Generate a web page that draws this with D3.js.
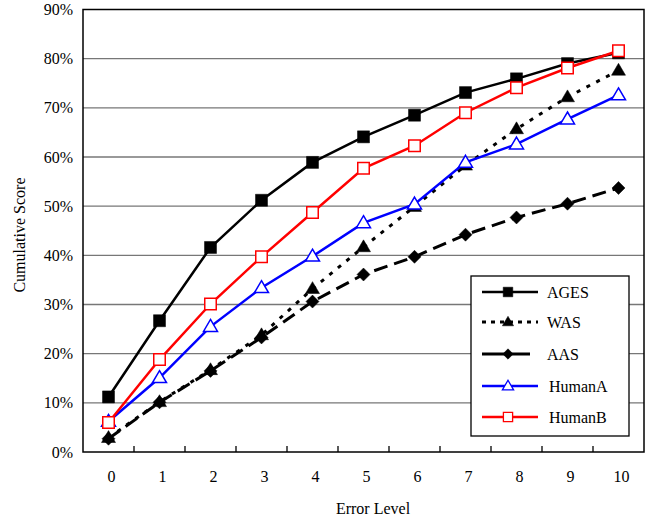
<!DOCTYPE html>
<html><head><meta charset="utf-8">
<script src="https://cdn.jsdelivr.net/npm/d3@7"></script>
<style>body{margin:0;background:#fff}svg{display:block}</style>
</head><body><svg id="c" width="654" height="521"></svg>
<script>
const categories = [0,1,2,3,4,5,6,7,8,9,10];
const yTicks = [0,10,20,30,40,50,60,70,80,90];
const AGES   = [11.2,26.7,41.6,51.2,58.9,64.1,68.5,73.1,75.9,79.0,81.2];
const WAS    = [2.9,10.2,16.7,23.8,33.2,41.7,49.9,58.3,65.7,72.2,77.6];
const AAS    = [2.7,10.1,16.5,23.3,30.6,36.1,39.7,44.2,47.7,50.5,53.7];
const HumanA = [6.2,15.1,25.5,33.4,39.8,46.6,50.4,58.9,62.6,67.7,72.6];
const HumanB = [6.0,18.8,30.1,39.7,48.7,57.7,62.3,69.0,74.1,78.1,81.6];
const seriesNames = ["AGES","WAS","AAS","HumanA","HumanB"];
const seriesData = [AGES,WAS,AAS,HumanA,HumanB];
const FONT = "'Liberation Serif','Times New Roman',Tinos,'DejaVu Serif',serif";
const styles = {
  AGES:{color:"#000",dash:null,width:2.5,sym:"square",size:12,fill:"#000"},
  WAS:{color:"#000",dash:"4,7",width:3,sym:"tri",size:14,fill:"#000"},
  AAS:{color:"#000",dash:"14,7",width:3,sym:"diamond",size:13,fill:"#000"},
  HumanA:{color:"#0000ff",dash:null,width:2.5,sym:"tri",size:14,fill:"#fff"},
  HumanB:{color:"#ff0000",dash:null,width:2.5,sym:"square",size:11.5,fill:"#fff"}
};
function symPath(type,s){
  const h=s/2;
  if(type==="square") return `M${-h},${-h}H${h}V${h}H${-h}Z`;
  if(type==="diamond") return `M0,${-h}L${h},0L0,${h}L${-h},0Z`;
  const th=s*0.85;
  return `M0,${-th*0.6}L${h},${th*0.4}L${-h},${th*0.4}Z`;
}
const L=83,R=644,T=9.5,B=452;
const svg=d3.select("#c").attr("font-family",FONT);
const x=d3.scaleBand().domain(categories).range([L,R]).paddingInner(0).paddingOuter(0);
const y=d3.scaleLinear().domain([0,90]).range([B,T]);
const cx=d=>x(d)+x.bandwidth()/2;

svg.append("g").selectAll("line").data(yTicks.slice(1,-1)).join("line")
  .attr("x1",L).attr("x2",R).attr("y1",d=>y(d)).attr("y2",d=>y(d))
  .attr("stroke","#777").attr("stroke-width",1.3);
svg.append("rect").attr("x",L).attr("y",T).attr("width",R-L).attr("height",B-T)
  .attr("fill","none").attr("stroke","#000").attr("stroke-width",1.5);

const ya=svg.append("g").attr("transform",`translate(${L},0)`)
  .call(d3.axisLeft(y).tickValues(yTicks).tickFormat(d=>d+"%").tickSize(0).tickPadding(10));
ya.attr("font-family",FONT).attr("font-size",16);
ya.select(".domain").remove();
ya.selectAll("text").attr("fill","#000");

svg.append("g").selectAll("line").data(categories.slice(1)).join("line")
  .attr("x1",d=>x(d)).attr("x2",d=>x(d)).attr("y1",B).attr("y2",B-6)
  .attr("stroke","#000").attr("stroke-width",1.3);
svg.append("g").selectAll("text").data(categories).join("text")
  .attr("x",d=>cx(d)+3).attr("y",482).attr("text-anchor","middle")
  .attr("font-size",16).text(d=>d);

svg.append("text").attr("x",373).attr("y",514).attr("text-anchor","middle").attr("font-size",16).text("Error Level");
svg.append("text").attr("transform","translate(25,235) rotate(-90)").attr("text-anchor","middle").attr("font-size",16).text("Cumulative Score");

const line=d3.line().x((d,i)=>cx(categories[i])).y(d=>y(d));
seriesNames.forEach((n,k)=>{
  const s=styles[n], data=seriesData[k];
  const g=svg.append("g");
  g.append("path").datum(data).attr("d",line).attr("fill","none")
    .attr("stroke",s.color).attr("stroke-width",s.width)
    .attr("stroke-dasharray",s.dash);
  g.selectAll("path.m").data(data).join("path").attr("class","m")
    .attr("d",symPath(s.sym,s.size))
    .attr("transform",(d,i)=>`translate(${cx(categories[i])},${y(d)})`)
    .attr("fill",s.fill).attr("stroke",s.color).attr("stroke-width",s.fill==="#fff"?1.5:0.5);
});

const lg=svg.append("g");
lg.append("rect").attr("x",471).attr("y",276).attr("width",158).attr("height",160)
  .attr("fill","#fff").attr("stroke","#000").attr("stroke-width",1.3);
const ly=[292,322,354,386,417];
seriesNames.forEach((n,k)=>{
  const s=styles[n];
  lg.append("line").attr("x1",482).attr("x2",n==="AAS"?530:538).attr("y1",ly[k]).attr("y2",ly[k])
    .attr("stroke",s.color).attr("stroke-width",s.width)
    .attr("stroke-dasharray",n==="WAS"?"4,5":null);
  lg.append("path").attr("d",symPath(s.sym,s.size*0.8))
    .attr("transform",`translate(508,${ly[k]})`)
    .attr("fill",s.fill).attr("stroke",s.color).attr("stroke-width",s.fill==="#fff"?1.3:0.5);
  lg.append("text").attr("x",n==="HumanA"||n==="HumanB"?549:547).attr("y",ly[k]+5.5)
    .attr("font-size",16).text(n);
});
</script></body></html>
